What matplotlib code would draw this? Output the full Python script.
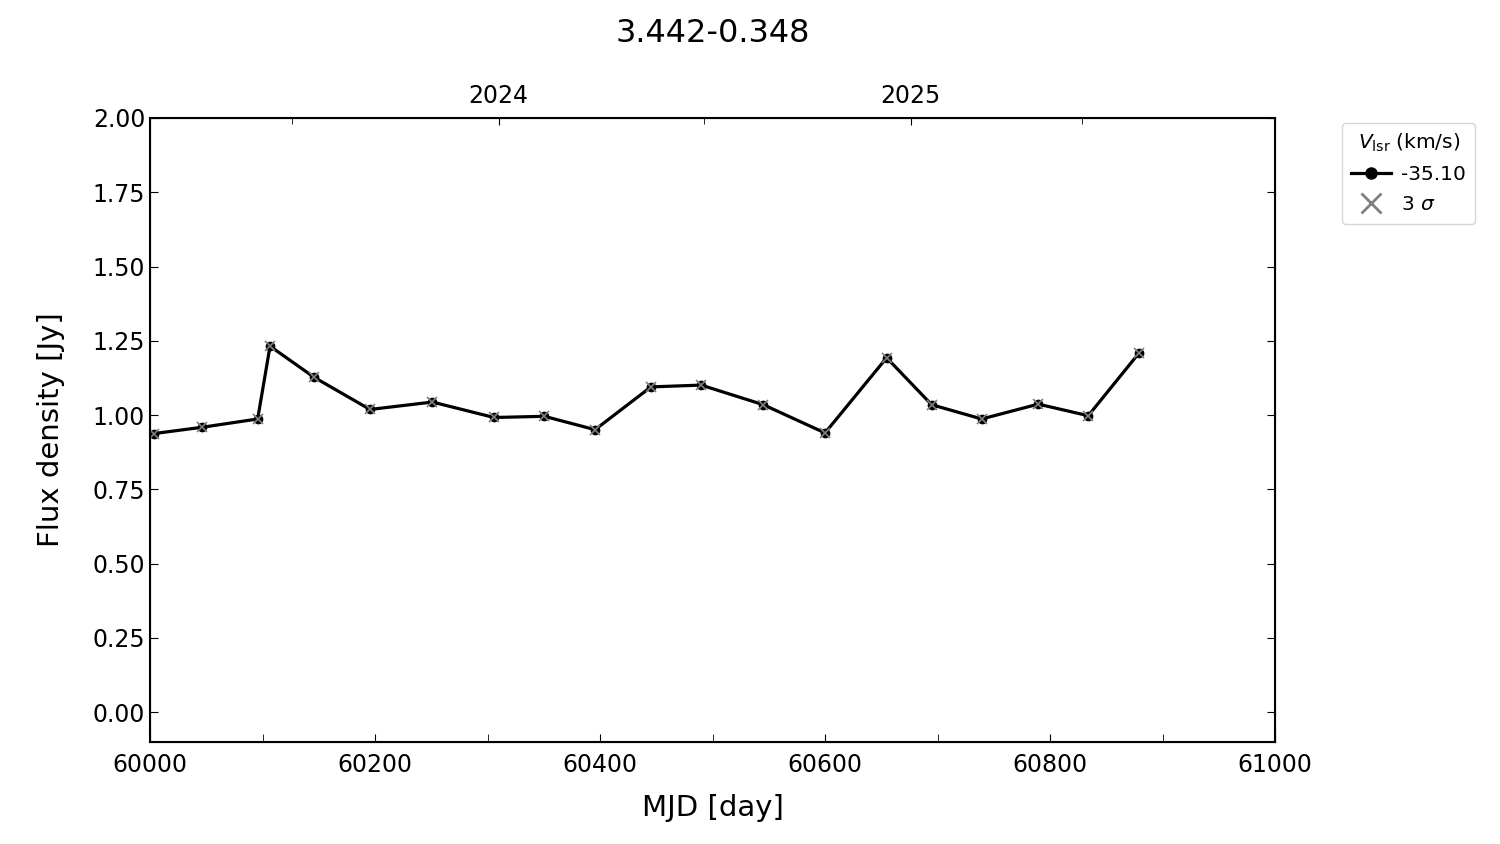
import matplotlib.pyplot as plt
from matplotlib.lines import Line2D
import numpy as np

# light curve of 3.442-0.348, single velocity channel
mjd = [60003.8, 60046.2, 60095.7, 60106.7, 60146.0, 60195.6, 60251.0, 60305.8,
       60350.5, 60395.6, 60445.3, 60490.0, 60545.2, 60600.0, 60654.8, 60694.8,
       60739.3, 60789.6, 60834.0, 60879.1]
flux = [0.938, 0.959, 0.987, 1.232, 1.127, 1.019, 1.044, 0.992,
        0.996, 0.951, 1.095, 1.101, 1.035, 0.940, 1.193, 1.035,
        0.987, 1.037, 0.998, 1.209]
vlsr_label = "-35.10"

# top axis: calendar years
year_mjd = [60310, 60676]
year_labels = ["2024", "2025"]
year_minor_mjd = [60126, 60492, 60828]

fig = plt.figure(figsize=(15, 8.44), dpi=100)
ax = fig.add_axes([0.1, 0.1209, 0.75, 0.7393])

ax.plot(mjd, flux, color="black", lw=2.3, marker="o", ms=6, zorder=2)
ax.plot(mjd, flux, ls="none", marker="x", color="gray", ms=6.5, mew=1.2, zorder=3)

ax.set_xlim(60000, 61000)
ax.set_ylim(-0.1, 2.0)
ax.set_xticks(np.arange(60000, 61001, 200))
ax.set_xticks(np.arange(60100, 61000, 200), minor=True)
ax.set_yticks(np.arange(0, 2.01, 0.25))
ax.tick_params(axis="both", which="major", direction="in", labelsize=17, length=6)
ax.tick_params(axis="x", which="minor", direction="in", length=6)
ax.tick_params(axis="y", right=True)
ax.tick_params(axis="x", pad=8)
ax.set_xlabel("MJD [day]", fontsize=21, labelpad=12)
ax.set_ylabel("Flux density [Jy]", fontsize=21, labelpad=20)
for s in ax.spines.values():
    s.set_linewidth(1.5)

axt = ax.twiny()
axt.set_xlim(ax.get_xlim())
axt.set_xticks(year_mjd)
axt.set_xticklabels(year_labels)
axt.set_xticks(year_minor_mjd, minor=True)
axt.tick_params(axis="x", which="major", direction="in", labelsize=17, length=5, pad=7)
axt.tick_params(axis="x", which="minor", direction="in", length=4)

handles = [
    Line2D([], [], color="black", lw=2.3, marker="o", ms=8),
    Line2D([], [], ls="none", marker="x", color="gray", ms=14, mew=2),
]
leg = ax.legend(handles, [vlsr_label, "3 $\\sigma$"], title="$V_{\\rm lsr}$ (km/s)",
                loc="upper left", bbox_to_anchor=(1.0596, 0.992), borderaxespad=0,
                fontsize=14.5, title_fontsize=14.5, handlelength=2.0,
                handletextpad=0.5, labelspacing=0.55, borderpad=0.45)

fig.text(712.5 / 1500, 1 - 34 / 844, "3.442-0.348", fontsize=23, ha="center", va="center")

fig.savefig("out.png", dpi=100)
